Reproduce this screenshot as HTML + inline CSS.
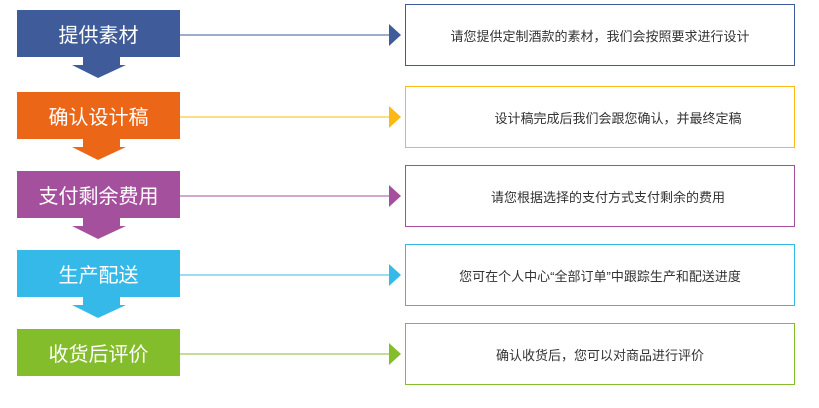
<!DOCTYPE html>
<html><head><meta charset="utf-8"><style>
body{margin:0;width:819px;height:408px;background:#fff;position:relative;overflow:hidden;font-family:"Liberation Sans","Noto Sans CJK SC",sans-serif}
.b{position:absolute;left:17px;width:163px;height:47px;color:#fff;font-size:20px;line-height:52px;text-align:center}
.r{position:absolute;left:405px;width:388px;height:60px;border:1px solid;box-sizing:content-box;font-size:13px;color:#333;line-height:63px;text-align:center;white-space:nowrap}
svg{position:absolute;left:0;top:0}
</style></head><body>
<svg width="819" height="408">
<polygon points="83,57 120,57 120,65 126,65 98,78 72,65 83,65" fill="#3f5b9a"/>
<polygon points="83,139 120,139 120,147 126,147 98,160 72,147 83,147" fill="#ec6617"/>
<polygon points="83,218 120,218 120,226 126,226 98,239 72,226 83,226" fill="#a5509c"/>
<polygon points="83,297 120,297 120,305 126,305 98,318 72,305 83,305" fill="#35b9e8"/>
<line x1="180" y1="35" x2="390" y2="35" stroke="#3f5b9a" stroke-width="1"/><polygon points="389,24 401,35 389,46" fill="#3f5b9a"/>
<line x1="180" y1="117" x2="390" y2="117" stroke="#fcb813" stroke-width="1"/><polygon points="389,106 401,117 389,128" fill="#fcb813"/>
<line x1="180" y1="196" x2="390" y2="196" stroke="#a5509c" stroke-width="1"/><polygon points="389,185 401,196 389,207" fill="#a5509c"/>
<line x1="180" y1="275" x2="390" y2="275" stroke="#35b9e8" stroke-width="1"/><polygon points="389,264 401,275 389,286" fill="#35b9e8"/>
<line x1="180" y1="354" x2="390" y2="354" stroke="#84bd2b" stroke-width="1"/><polygon points="389,343 401,354 389,365" fill="#84bd2b"/>
</svg>
<div class="b" style="top:10px;background:#3f5b9a">提供素材</div>
<div class="b" style="top:92px;background:#ec6617">确认设计稿</div>
<div class="b" style="top:171px;background:#a5509c">支付剩余费用</div>
<div class="b" style="top:250px;background:#35b9e8">生产配送</div>
<div class="b" style="top:329px;background:#84bd2b">收货后评价</div>
<div class="r" style="top:4px;border-color:#3f5b9a">请您提供定制酒款的素材，我们会按照要求进行设计</div>
<div class="r" style="top:86px;border-color:#fcb813;box-sizing:border-box;height:62px;width:390px;padding-left:36px">设计稿完成后我们会跟您确认，并最终定稿</div>
<div class="r" style="top:165px;border-color:#a5509c;box-sizing:border-box;height:62px;width:390px;padding-left:16px">请您根据选择的支付方式支付剩余的费用</div>
<div class="r" style="top:244px;border-color:#35b9e8">您可在个人中心“全部订单”中跟踪生产和配送进度</div>
<div class="r" style="top:323px;border-color:#84bd2b">确认收货后，您可以对商品进行评价</div>
</body></html>
